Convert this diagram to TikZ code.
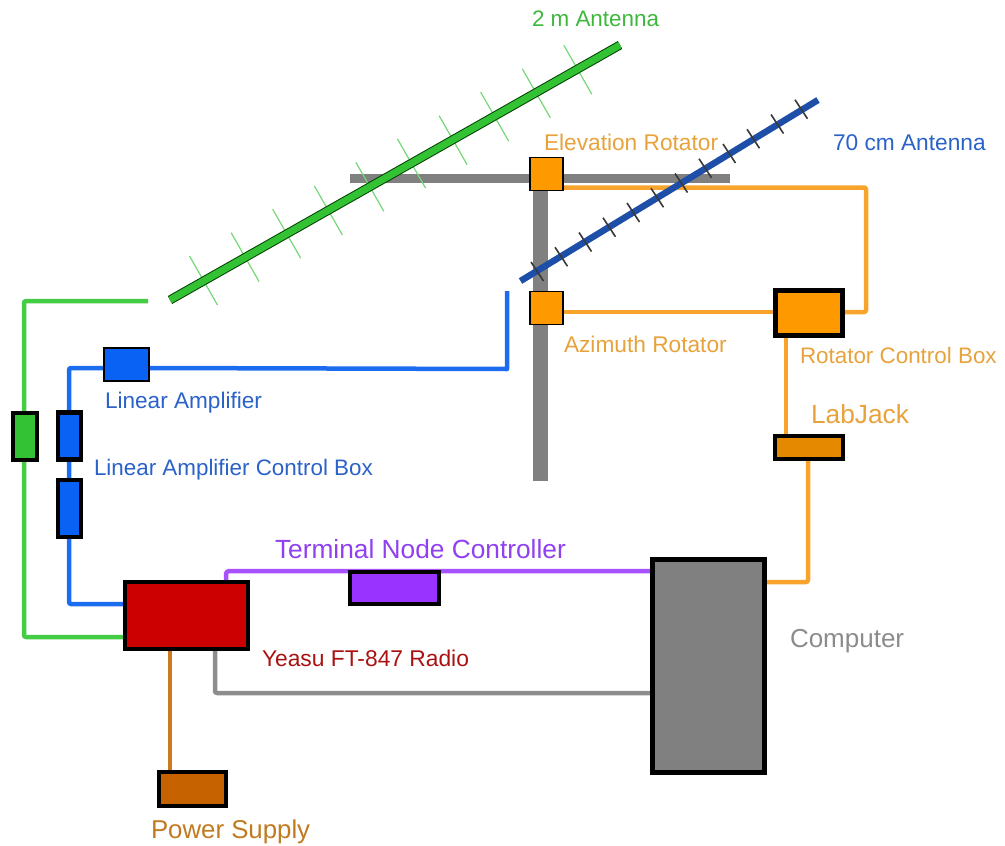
\documentclass[tikz,border=0pt]{standalone}
\usepackage{fontspec}
\setmainfont{Liberation Sans}
\usetikzlibrary{backgrounds}
\definecolor{cgreen}{HTML}{33C233}
\definecolor{wgreen}{HTML}{44CC44}
\definecolor{tgreen}{HTML}{3DB83D}
\definecolor{cblue}{HTML}{0A62F5}
\definecolor{wblue}{HTML}{1C6CF0}
\definecolor{tblue}{HTML}{2A62C8}
\definecolor{navy}{HTML}{1E4FA8}
\definecolor{corange}{HTML}{FF9900}
\definecolor{worange}{HTML}{F8A42C}
\definecolor{torange}{HTML}{E8A23C}
\definecolor{cpurple}{HTML}{9933FF}
\definecolor{tpurple}{HTML}{9040F0}
\definecolor{cred}{HTML}{CC0000}
\definecolor{tred}{HTML}{AA1111}
\definecolor{cbrown}{HTML}{C66300}
\definecolor{wbrown}{HTML}{CC7A22}
\definecolor{tbrown}{HTML}{C07A20}
\definecolor{cgray}{HTML}{808080}
\definecolor{tgray}{HTML}{8C8C8C}
\tikzset{
  box/.style={draw=black,line width=4.5pt,inner sep=0pt,outer sep=0pt},
  thinbox/.style={draw=black,line width=1.8pt,inner sep=0pt,outer sep=0pt},
  wire/.style={line width=4.5pt,line join=round},
  lbl/.style={anchor=base west,inner sep=0pt,outer sep=0pt},
  ele/.style={line width=1.2pt,color=green!55!gray!70!white},
  ele70/.style={line width=1.6pt,black!55!gray},
}
\newcommand{\sz}[1]{\fontsize{#1pt}{#1pt}\selectfont}
\begin{document}
\begin{tikzpicture}[x=1pt,y=-1pt]
\useasboundingbox (0,0) rectangle (1005,846);
% mast
\fill[cgray] (350,174) rectangle (730,183);
\fill[cgray] (533,183) rectangle (548,481);
% rotators and boxes
\node[thinbox,fill=corange,minimum width=33pt,minimum height=33pt] (elev) at (546.5,174) {};
\node[thinbox,fill=corange,minimum width=33pt,minimum height=33pt] (azim) at (546.5,308) {};
\node[box,fill=corange,minimum width=67pt,minimum height=45pt] (ctrl) at (809,313) {};
\node[box,fill=corange!90!black,minimum width=68pt,minimum height=23pt] (labj) at (809,447.5) {};
\node[box,fill=cgray,minimum width=112pt,minimum height=213pt] (comp) at (708.5,666) {};
\node[box,fill=cred,minimum width=123pt,minimum height=67pt] (radio) at (186.5,615.5) {};
\node[box,fill=cpurple,minimum width=89pt,minimum height=32pt] (tnc) at (394.5,588) {};
\node[box,fill=cbrown,minimum width=67pt,minimum height=34pt] (psu) at (192.5,789) {};
\node[box,fill=cgreen,minimum width=24pt,minimum height=47pt] (gbox) at (25,436.5) {};
\node[box,fill=cblue,minimum width=23pt,minimum height=47pt] (bbox1) at (69.5,436) {};
\node[box,fill=cblue,minimum width=23pt,minimum height=57pt] (bbox2) at (69.5,508.5) {};
\node[thinbox,fill=cblue,minimum width=45pt,minimum height=33pt] (lamp) at (126.5,364.5) {};
% free ends
\coordinate (greenend) at (148,301);
\coordinate (blueend) at (507,291);
\coordinate (gcorner) at (24,301);
\coordinate (bcorner) at (69,368);
\coordinate (rcorner) at (866,187.5);
% wires
\begin{scope}[on background layer]
\draw[wire,wgreen,rounded corners=2pt] (greenend) -- (gcorner) -- (24,637) -- (radio.west |- 0,637);
\draw[wire,wblue,rounded corners=2pt] (lamp.west |- bcorner) -- (bcorner) -- (69,604) -- (radio.west |- 0,604);
\draw[wire,wblue] (lamp.east |- bcorner) -- (507,369) -- (blueend);
\draw[wire,worange,rounded corners=2pt] (elev.east |- rcorner) -- (rcorner) -- (866,312) -- (ctrl.east |- 0,312);
\draw[wire,worange] (azim.east |- 0,312) -- (ctrl.west |- 0,312);
\draw[wire,worange] (ctrl.south -| 786,0) -- (labj.north -| 786,0);
\draw[wire,worange,rounded corners=2pt] (labj.south -| 808,0) -- (808,582) -- (comp.east |- 0,582);
\draw[wire,cpurple!85!white,rounded corners=3pt] (radio.north -| 226,0) -- (226,571) -- (comp.west |- 0,571);
\draw[wire,cgray!90!white,rounded corners=2pt] (radio.south -| 215,0) -- (215,693) -- (comp.west |- 0,693);
\draw[wire,wbrown] (radio.south -| 170,0) -- (psu.north -| 170,0);
\end{scope}
% 2 m antenna
\foreach \i in {0,...,9}{
  \draw[ele] ({189.5+41.6*\i},{256-23.4*\i}) -- ({217.5+41.6*\i},{305-23.4*\i});
}
\draw[draw=black!75!green,line width=1pt,double=cgreen,double distance=7pt] (170,300) -- (620,45);
% 70 cm antenna
\draw[navy,line width=6.5pt] (520.5,281) -- (818,100);
\foreach \i in {0,...,11}{
  \draw[ele70] ({531+24*\i},{262-14.75*\i}) -- ({543.5+24*\i},{281-14.75*\i});
}
% labels
\node[lbl,text=tgreen] (t1) at (532,26) {\sz{22.4}2 m Antenna};
\node[lbl,text=torange] (t2) at (544,150) {\sz{22.7}Elevation Rotator};
\node[lbl,text=tblue] (t3) at (833,150) {\sz{22.7}70 cm Antenna};
\node[lbl,text=torange] (t4) at (564,352) {\sz{22.7}Azimuth Rotator};
\node[lbl,text=torange] (t5) at (800,363) {\sz{22.4}Rotator Control Box};
\node[lbl,text=torange] (t6) at (811,423) {\sz{26.3}LabJack};
\node[lbl,text=tblue] (t7) at (105,408) {\sz{22.6}Linear Amplifier};
\node[lbl,text=tblue] (t8) at (94,475) {\sz{22.4}Linear Amplifier Control Box};
\node[lbl,text=tpurple] (t9) at (275,558) {\sz{26.3}Terminal Node Controller};
\node[lbl,text=tred] (t10) at (262,666) {\sz{22.8}Yeasu FT-847 Radio};
\node[lbl,text=tgray] (t11) at (790,647) {\sz{26}Computer};
\node[lbl,text=tbrown] (t12) at (151,838) {\sz{25.8}Power Supply};
\end{tikzpicture}
\end{document}
